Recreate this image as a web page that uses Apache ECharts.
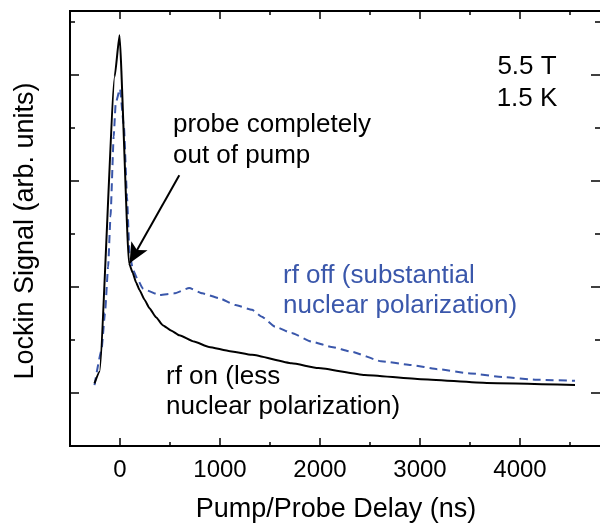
<!DOCTYPE html>
<html>
<head>
<meta charset="utf-8">
<script src="https://cdn.jsdelivr.net/npm/echarts@6/dist/echarts.min.js"></script>
<style>html,body{margin:0;padding:0;background:#fff}#c{width:600px;height:525px}</style>
</head>
<body>
<div id="c"></div>
<script>
// rf on (less nuclear polarization) - solid black
const delayOn  = [-255, -205, -53, -5, 90, 129, 160, 196, 245, 295, 360, 427, 510, 593, 740, 890, 1100, 1320, 1717, 1982, 2446, 3008, 3670, 4550];
const signalOn = [1.18, 1.40, 6.97, 7.75, 3.45, 3.26, 3.09, 2.94, 2.76, 2.60, 2.43, 2.28, 2.18, 2.09, 1.97, 1.87, 1.79, 1.72, 1.56, 1.47, 1.34, 1.26, 1.19, 1.15];
// rf off (substantial nuclear polarization) - dashed blue
const delayOff  = [-255, -185, -150, -119, -95, -63, -43, 0, 40, 70, 95, 130, 180, 228, 262, 394, 543, 692, 824, 990, 1155, 1320, 1419, 1552, 1717, 1916, 2114, 2313, 2610, 2908, 3173, 3504, 3835, 4166, 4550];
const signalOff = [1.15, 1.81, 2.51, 3.38, 4.33, 5.84, 6.47, 6.74, 6.0, 4.7, 3.64, 3.32, 3.13, 2.97, 2.94, 2.85, 2.88, 2.98, 2.88, 2.79, 2.66, 2.57, 2.44, 2.25, 2.13, 1.97, 1.87, 1.78, 1.60, 1.53, 1.45, 1.37, 1.30, 1.25, 1.23];
// axis ticks
const xMajorTicks = [0, 1000, 2000, 3000, 4000];
const xMinorTicks = [500, 1500, 2500, 3500, 4500];
const yMajorTicks = [1, 3, 5, 7];
const yMinorTicks = [2, 4, 6, 8];
// arrow annotation (tail -> tip at the on-curve point)
const arrowTail = [593, 5.11];
const arrowTip  = [96, 3.45];

const FONT = "'Liberation Sans', Arial, Helvetica, sans-serif";
const BLUE = '#3a57ab';
const X_MIN = -500, X_MAX = 4800, Y_MIN = 0, Y_MAX = 8.208;

function xAx(pos, vals, len, labels) {
  return {
    type: 'value', position: pos, min: X_MIN, max: X_MAX, gridIndex: 0,
    axisLine: {show: true, onZero: false, lineStyle: {color: '#000', width: 2}},
    axisTick: {show: true, inside: true, length: len, customValues: vals, lineStyle: {color: '#000', width: 1.5}},
    axisLabel: labels ? {show: true, customValues: vals, margin: 12, fontSize: 24, color: '#000', fontFamily: FONT,
      formatter: v => String(v)} : {show: false},
    splitLine: {show: false}
  };
}
function yAx(pos, vals, len, showLine) {
  return {
    type: 'value', position: pos, min: Y_MIN, max: Y_MAX, gridIndex: 0,
    axisLine: {show: showLine, onZero: false, lineStyle: {color: '#000', width: 2}},
    axisTick: {show: true, inside: true, length: len, customValues: vals, lineStyle: {color: '#000', width: 1.5}},
    axisLabel: {show: false},
    splitLine: {show: false}
  };
}

const chart = echarts.init(document.getElementById('c'), null, {renderer: 'canvas'});
chart.setOption({
  animation: false,
  backgroundColor: '#fff',
  grid: {left: 70, top: 11, width: 535, height: 435, containLabel: false},
  xAxis: [
    xAx('bottom', xMajorTicks, 8, true),
    xAx('bottom', xMinorTicks, 4, false),
    xAx('top', xMajorTicks, 8, false),
    xAx('top', xMinorTicks, 4, false)
  ],
  yAxis: [
    yAx('left', yMajorTicks, 9, true),
    yAx('left', yMinorTicks, 5, true),
    yAx('right', yMajorTicks, 9, false),
    yAx('right', yMinorTicks, 5, false)
  ],
  series: [
    {
      name: 'rf off', type: 'line', xAxisIndex: 0, yAxisIndex: 0,
      data: delayOff.map((d, i) => [d, signalOff[i]]),
      showSymbol: false, smooth: 0.15, smoothMonotone: 'x',
      lineStyle: {color: BLUE, width: 2, type: [8, 5]}
    },
    {
      name: 'rf on', type: 'line', xAxisIndex: 0, yAxisIndex: 0,
      data: delayOn.map((d, i) => [d, signalOn[i]]),
      showSymbol: false, smooth: 0.15, smoothMonotone: 'x',
      lineStyle: {color: '#000', width: 2},
      markLine: {
        silent: true, animation: false,
        symbol: ['none', 'arrow'], symbolSize: [14, 20],
        label: {show: false},
        lineStyle: {color: '#000', width: 2, type: 'solid'},
        data: [[{coord: arrowTail, symbol: 'none'}, {coord: arrowTip, symbol: 'arrow'}]]
      }
    }
  ],
  graphic: [
    {type: 'text', x: 336, y: 510, style: {text: 'Pump/Probe Delay (ns)', font: '27px ' + FONT, fill: '#000', align: 'center', verticalAlign: 'middle'}},
    {type: 'text', x: 26, y: 231, rotation: Math.PI / 2, style: {text: 'Lockin Signal (arb. units)', font: '27px ' + FONT, fill: '#000', align: 'center', verticalAlign: 'middle'}},
    {type: 'text', x: 527, y: 67, style: {text: '5.5 T', font: '26px ' + FONT, fill: '#000', align: 'center', verticalAlign: 'middle'}},
    {type: 'text', x: 527, y: 99, style: {text: '1.5 K', font: '26px ' + FONT, fill: '#000', align: 'center', verticalAlign: 'middle'}},
    {type: 'text', x: 173, y: 125, style: {text: 'probe completely', font: '26px ' + FONT, fill: '#000', align: 'left', verticalAlign: 'middle'}},
    {type: 'text', x: 173, y: 156, style: {text: 'out of pump', font: '26px ' + FONT, fill: '#000', align: 'left', verticalAlign: 'middle'}},
    {type: 'text', x: 283, y: 276, style: {text: 'rf off (substantial', font: '26px ' + FONT, fill: BLUE, align: 'left', verticalAlign: 'middle'}},
    {type: 'text', x: 283, y: 306, style: {text: 'nuclear polarization)', font: '26px ' + FONT, fill: BLUE, align: 'left', verticalAlign: 'middle'}},
    {type: 'text', x: 166, y: 377, style: {text: 'rf on (less', font: '26px ' + FONT, fill: '#000', align: 'left', verticalAlign: 'middle'}},
    {type: 'text', x: 166, y: 407, style: {text: 'nuclear polarization)', font: '26px ' + FONT, fill: '#000', align: 'left', verticalAlign: 'middle'}}
  ]
});
</script>
</body>
</html>
